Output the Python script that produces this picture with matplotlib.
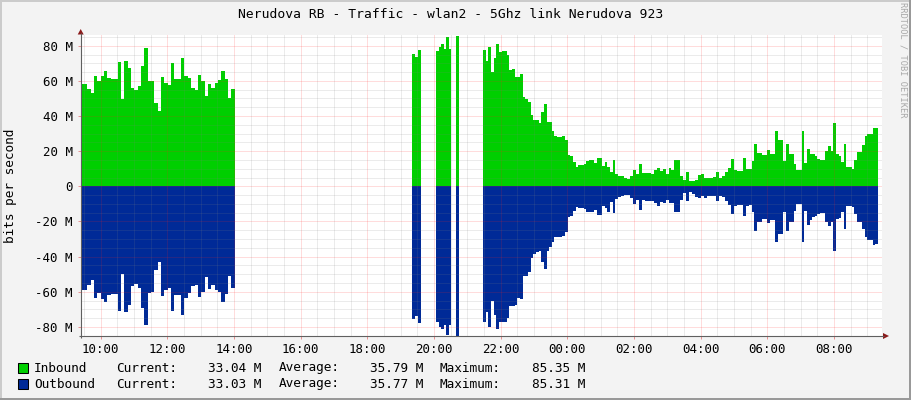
import numpy as np
import matplotlib
matplotlib.use("Agg")
import matplotlib.pyplot as plt
from matplotlib.patches import Rectangle, Polygon

W, H = 911, 400

# ---------------- data (Mbit/s) ----------------
block1_in = [58, 58, 55.5, 53, 63, 60, 63, 65.4, 61.7, 61, 61, 70.7, 49.6, 71.3, 67.3,
             56.2, 54.7, 57, 68.4, 78.7, 59.8, 60.2, 47.5, 43, 62, 58.5, 57.4, 70.1,
             61, 61, 73, 62.7, 61.6, 56.2, 54.7, 63.1, 59.8, 51.3, 58.1, 55.9, 58.5,
             60.4, 65.4, 61, 50.5, 55.1]
block1_out = [58.9, 59.3, 55.9, 53.2, 63.7, 60.8, 64, 66, 61.6, 61.2, 61.2, 71.1, 50.2,
              71.7, 67.5, 57, 55.5, 57.8, 69.2, 79, 60.8, 60.4, 47.9, 43.3, 62.3, 59.3,
              57.8, 70.7, 61.6, 61.6, 73.4, 63.5, 60.8, 57, 56.3, 63.1, 60, 51.7, 58.5,
              56.3, 58.9, 60.4, 65.8, 61.2, 51.3, 57.8]

block2_in = [75.2, 73.7, 77.5]
block2_out = [75.4, 74.1, 77.9]

block3_in = [77.1, 79.4, 80.9, 78.3, 85.1, 78.3]
block3_out = [77.3, 79.8, 81.1, 78.7, 84.9, 78.7]

spike_in = [85.35]
spike_out = [85.31]

block4a_in = [77.5, 71.4, 79, 65.2, 72.8, 81, 76.6, 77, 77, 74.7, 66.1, 67, 62.3, 62.3,
              63.8, 50.9, 49.4, 48, 40.5, 38, 37.6, 36.1, 42.4, 46.7, 36.7, 36.7, 31.5,
              28.5, 28.1, 28.1, 28.9, 26.2, 17.7, 17.1, 13.9, 11, 12, 12.4, 12.9, 14.3,
              14.8, 14.8, 13.3, 16, 16, 11.4, 13.9, 11, 8.2, 14.8, 7.2]
block4a_out = [77.5, 71.8, 79.8, 65.2, 73.3, 81.3, 77.1, 77.1, 77.1, 75.2, 68, 68, 67.3,
               63.3, 64.2, 51.3, 50.9, 49, 41, 38.6, 37.6, 36.7, 42.9, 47.1, 36.7, 34.8,
               31.9, 29.1, 29.1, 29.1, 28.5, 26.2, 17.7, 16.7, 14.3, 12, 12.5, 12.5, 12.9,
               14.4, 14.8, 14.8, 13.3, 16.3, 16.3, 11.4, 12.5, 14.4, 8.7, 15.2, 7.2]

block4b_in = [5.7, 5.7, 4.9, 4.2, 5.7, 9.5, 6.8, 12.9, 7.6, 7.6, 7.6, 6.8, 9.1, 10.6, 8.7,
              9.9, 6.8, 10.3, 9.1, 14.8, 14.8, 5.7, 3.4, 8, 2.9, 3, 3.8, 6.3, 6.8, 4.9,
              4.6, 4.6, 5.3, 8, 4.6, 5.7, 8, 10.6, 15.8, 9.1, 8.7, 8.7, 16.3, 10.1, 9.9]
block4b_out = [6.0, 5.7, 4.9, 4.9, 6.8, 10.1, 7.6, 13.3, 7.6, 8.2, 8.2, 8.2, 9.5, 11, 8.7,
               9.5, 7.6, 9.5, 9.5, 14.8, 14.8, 7.6, 3.8, 8.2, 3.4, 4.4, 6.3, 6.8, 5.3, 6.8,
               5.3, 5.3, 5.3, 8.2, 5.7, 6.3, 8.2, 10.6, 16, 11.4, 10.6, 10.6, 16.7, 11.4, 10.6]

block4c_in = [14.3, 24.3, 19, 19, 18, 18, 20.5, 18.2, 18.2, 31.4, 26.2, 26.6, 14.3, 24.3,
              18.2, 18.2, 12.5, 9.1, 9.5, 31.4, 13.3, 21.5, 18.2, 18.2, 17.1, 15.4, 14.8,
              14.8, 20, 22.8, 20, 36.1, 18.2, 17.5, 13.9, 23.9, 11, 11, 10.1, 14.8, 19.6,
              19.6, 23.4, 28.5, 30, 29.6, 32.9, 33.04]
block4c_out = [14.4, 25.3, 20.1, 20.1, 18.6, 18.6, 20.9, 19, 19, 31.9, 27.2, 27.2, 14.8,
               25.3, 20.1, 20.1, 13.9, 10.1, 10.1, 31.9, 13.9, 22, 19, 17.7, 16.7, 15.8,
               15.2, 15.2, 20.5, 22.8, 20.5, 36.7, 18.6, 18.2, 14.4, 24.3, 11.4, 11.4, 12,
               15.8, 20.1, 20.1, 24.3, 29.1, 30.4, 30.4, 33.4, 33.03]

# time span of each block (hours after midnight of the first day)
block_spans = [(9.40, 14.02), (19.34, 19.61), (20.06, 20.51), (20.66, 20.74),
               (21.47, 25.52), (25.52, 29.53), (29.53, 33.32)]

series_names = ["Inbound", "Outbound"]
stat_current = [33.04, 33.03]
stat_average = [35.79, 35.77]
stat_maximum = [85.35, 85.31]

x_tick_hours = [10, 12, 14, 16, 18, 20, 22, 24, 26, 28, 30, 32]
x_tick_labels = ["10:00", "12:00", "14:00", "16:00", "18:00", "20:00", "22:00",
                 "00:00", "02:00", "04:00", "06:00", "08:00"]
y_tick_values = [-80, -60, -40, -20, 0, 20, 40, 60, 80]
y_tick_labels = ["-80 M", "-60 M", "-40 M", "-20 M", "0", "20 M", "40 M", "60 M", "80 M"]

title = "Nerudova RB - Traffic - wlan2 - 5Ghz link Nerudova 923"

# ---------------- styling ----------------
GREEN = "#00CF00"
BLUE = "#002A97"
MONO = "DejaVu Sans Mono"
BG = "#F3F3F3"

fig = plt.figure(figsize=(W / 100, H / 100), dpi=100, facecolor=BG)

L, R, T, B = 80.7, 881.7, 35.0, 336.0
ax = fig.add_axes([L / W, 1 - B / H, (R - L) / W, (B - T) / H])
ax.set_facecolor("white")
ax.set_xlim(9.40, 9.40 + (R - L) / 33.333)
ax.set_ylim(-85.2, 86.1)

ins = [block1_in, block2_in, block3_in, spike_in, block4a_in, block4b_in, block4c_in]
outs = [block1_out, block2_out, block3_out, spike_out, block4a_out, block4b_out, block4c_out]
for (t0, t1), vi, vo in zip(block_spans, ins, outs):
    edges = np.linspace(t0, t1, len(vi) + 1)
    ax.stairs(vi, edges, baseline=0, fill=True, color=GREEN, lw=0, zorder=2)
    ax.stairs(-np.asarray(vo), edges, baseline=0, fill=True, color=BLUE, lw=0, zorder=2)

# grid (dotted, drawn over the areas like rrdtool does)
dot = (0, (1, 1))
MINOR_KW = dict(color="#808080", alpha=0.30, lw=0.72, ls=dot, zorder=3)
MAJOR_KW = dict(color="#FF2020", alpha=0.30, lw=0.72, ls=dot, zorder=3)
for h in np.arange(9.5, 33.5, 0.5):
    ax.axvline(h, **(MAJOR_KW if abs(h % 2) < 1e-9 else MINOR_KW))
for v in range(-85, 90, 5):
    ax.axhline(v, **(MAJOR_KW if v % 20 == 0 else MINOR_KW))

for s in ax.spines.values():
    s.set_visible(False)
ax.set_xticks(x_tick_hours)
ax.set_xticklabels(x_tick_labels, family=MONO, fontsize=9)
ax.set_yticks(y_tick_values)
ax.set_yticklabels(y_tick_labels, family=MONO, fontsize=9)
ax.tick_params(axis="both", length=2.2, width=0.7, color="#E89090", pad=3.5)
ax.tick_params(axis="x", pad=3.0)

# ---------------- decorations in pixel coordinates ----------------
deco = fig.add_axes([0, 0, 1, 1], zorder=5)
deco.set_xlim(0, W)
deco.set_ylim(H, 0)
deco.axis("off")
deco.patch.set_alpha(0)

# frame shading
deco.add_patch(Rectangle((0, 0), W, 2, color="#CBCBCB", lw=0))
deco.add_patch(Rectangle((0, 0), 2, H, color="#CBCBCB", lw=0))
deco.add_patch(Rectangle((0, H - 2), W, 2, color="#999999", lw=0))
deco.add_patch(Rectangle((W - 2.5, 0), 2.5, H, color="#999999", lw=0))

# axes lines and arrows
deco.plot([L, L], [B + 2, 33], color="#606060", lw=0.8, solid_capstyle="butt")
deco.plot([L - 2, 884], [B, B], color="#606060", lw=0.8, solid_capstyle="butt")
deco.add_patch(Polygon([(L - 3, 34.5), (L + 3, 34.5), (L, 29)], closed=True,
                       color="#8B1A1A", lw=0))
deco.add_patch(Polygon([(883, B - 3), (883, B + 3), (889, B)], closed=True,
                       color="#8B1A1A", lw=0))

# texts
deco.text(451, 14, title, family=MONO, fontsize=9.4, ha="center", va="center")
deco.text(11, 186, "bits per second", family=MONO, fontsize=9.2, rotation=90,
          ha="center", va="center")
deco.text(903, 60, "RRDTOOL / TOBI OETIKER", family=MONO, fontsize=6.2, rotation=270,
          ha="center", va="center", color="#A8A8A8")

row_y = [368, 384]
colors = [GREEN, BLUE]
for i in range(2):
    y = row_y[i]
    deco.add_patch(Rectangle((17.5, y - 5), 10, 10, facecolor=colors[i],
                             edgecolor="black", lw=0.75))
    kw = dict(family=MONO, fontsize=9.2, va="center")
    deco.text(34, y, series_names[i], ha="left", **kw)
    deco.text(116.5, y, "Current:", ha="left", **kw)
    deco.text(261, y, f"{stat_current[i]:.2f} M", ha="right", **kw)
    deco.text(279, y, "Average:", ha="left", **kw)
    deco.text(423, y, f"{stat_average[i]:.2f} M", ha="right", **kw)
    deco.text(440, y, "Maximum:", ha="left", **kw)
    deco.text(585, y, f"{stat_maximum[i]:.2f} M", ha="right", **kw)

fig.savefig("out.png", dpi=100, facecolor=BG)
